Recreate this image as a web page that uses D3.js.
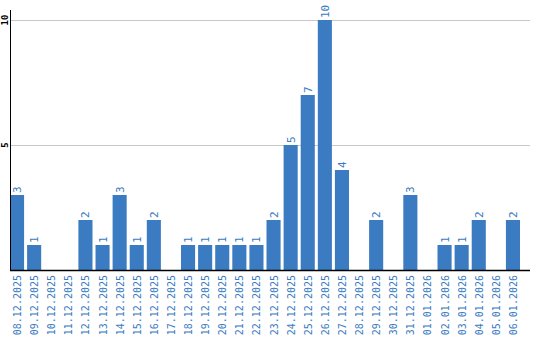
<!DOCTYPE html>
<html lang="en">
<head>
    <meta charset="UTF-8">
    <title>Daily counts</title>
    <script src="https://d3js.org/d3.v7.min.js"></script>
    <style>
        body { margin: 0; background: #fff; }
        .val, .xlab { font-family: 'DejaVu Sans Mono', monospace; fill: #3a7bc0; }
        .ylab { font-family: 'DejaVu Sans Mono', monospace; fill: #000; }
    </style>
</head>
<body>
<div id="chart"></div>
<script>
    const dates = ['08.12.2025', '09.12.2025', '10.12.2025', '11.12.2025', '12.12.2025', '13.12.2025',
        '14.12.2025', '15.12.2025', '16.12.2025', '17.12.2025', '18.12.2025', '19.12.2025', '20.12.2025',
        '21.12.2025', '22.12.2025', '23.12.2025', '24.12.2025', '25.12.2025', '26.12.2025', '27.12.2025',
        '28.12.2025', '29.12.2025', '30.12.2025', '31.12.2025', '01.01.2026', '02.01.2026', '03.01.2026',
        '04.01.2026', '05.01.2026', '06.01.2026'];
    const counts = [3, 1, 0, 0, 2, 1, 3, 1, 2, 0, 1, 1, 1, 1, 1, 2, 5, 7, 10, 4, 0, 2, 0, 3, 0, 1, 1, 2, 0, 2];
    const yTicks = [5, 10];

    const width = 540, height = 340;
    const plotLeft = 10, plotRight = 530, plotBase = 270, plotTop = 10;

    const svg = d3.select('#chart').append('svg')
        .attr('width', width)
        .attr('height', height);

    const x = d3.scaleBand()
        .domain(dates)
        .range([plotLeft, plotLeft + dates.length * 17])
        .paddingInner(3 / 17)
        .paddingOuter(0)
        .align(0);

    const y = d3.scaleLinear()
        .domain([0, 10.4])
        .range([plotBase, plotTop]);

    // gridlines
    svg.append('g').selectAll('line')
        .data(yTicks)
        .join('line')
        .attr('x1', plotLeft)
        .attr('x2', plotRight)
        .attr('y1', d => Math.round(y(d)) + 0.5)
        .attr('y2', d => Math.round(y(d)) + 0.5)
        .attr('stroke', '#c8c8c8');

    svg.append('g').selectAll('text')
        .data(yTicks)
        .join('text')
        .attr('class', 'ylab')
        .attr('font-size', 9)
        .attr('font-weight', 'bold')
        .attr('text-anchor', 'middle')
        .attr('transform', d => `translate(8,${y(d)}) rotate(-90)`)
        .text(d => d);

    // bars
    svg.append('g').selectAll('rect')
        .data(counts)
        .join('rect')
        .attr('x', (d, i) => x(dates[i]))
        .attr('y', d => y(d))
        .attr('width', x.bandwidth())
        .attr('height', d => plotBase - y(d))
        .attr('fill', '#3a7bc2');

    // value labels
    svg.append('g').selectAll('text')
        .data(counts.map((v, i) => ({ v, i })).filter(d => d.v > 0))
        .join('text')
        .attr('class', 'val')
        .attr('font-size', 11)
        .attr('text-anchor', 'start')
        .attr('transform', d => `translate(${x(dates[d.i]) + x.bandwidth() / 2 + 4},${y(d.v) - 2}) rotate(-90)`)
        .text(d => d.v);

    // date labels
    svg.append('g').selectAll('text')
        .data(dates)
        .join('text')
        .attr('class', 'xlab')
        .attr('font-size', 10)
        .attr('text-anchor', 'end')
        .attr('transform', d => `translate(${x(d) + x.bandwidth() / 2 + 4},${plotBase + 5}) rotate(-90)`)
        .text(d => d);

    // axes
    svg.append('line')
        .attr('x1', plotLeft + 0.5).attr('x2', plotLeft + 0.5)
        .attr('y1', plotTop).attr('y2', plotBase)
        .attr('stroke', '#000');
    svg.append('line')
        .attr('x1', plotLeft).attr('x2', plotRight)
        .attr('y1', plotBase + 0.5).attr('y2', plotBase + 0.5)
        .attr('stroke', '#000')
        .attr('stroke-width', 1.5);
</script>
</body>
</html>
